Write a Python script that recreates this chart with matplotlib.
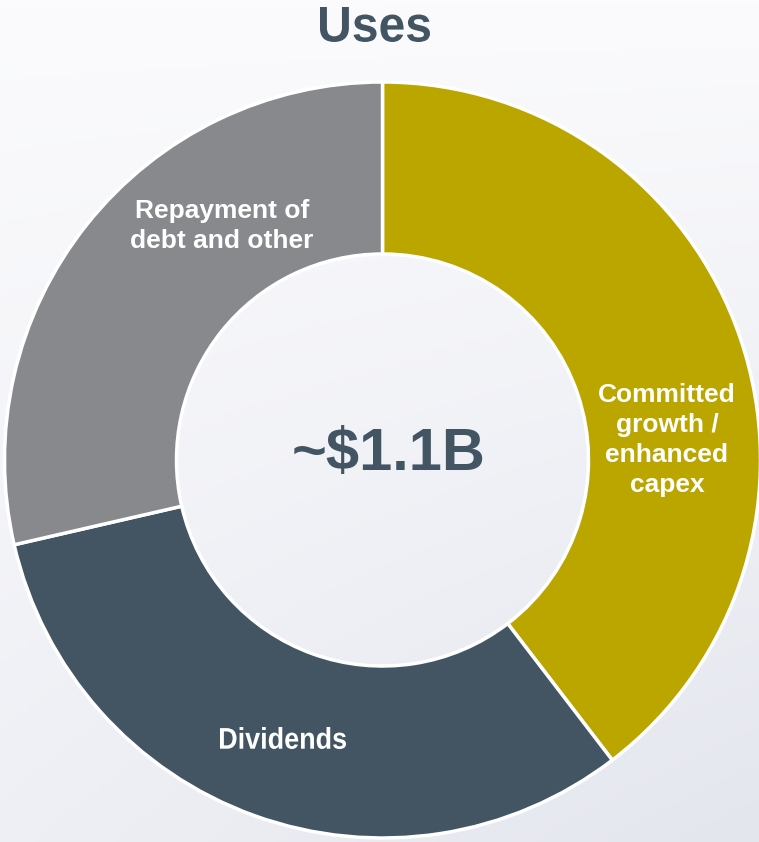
import numpy as np
import matplotlib.pyplot as plt
from matplotlib.colors import LinearSegmentedColormap
from matplotlib.textpath import TextPath
from matplotlib.patches import PathPatch
from matplotlib.font_manager import FontProperties
from matplotlib.transforms import Affine2D

# Uses of cash, share of total (approx.)
etiquetas = ['Committed\ngrowth /\nenhanced\ncapex', 'Dividends', 'Repayment of\ndebt and other']
valores = [39.6, 31.8, 28.6]
colores = ['#bba600', '#435563', '#87898c']
titulo = 'Uses'
total = '~$1.1B'

W, H = 759, 842
fig = plt.figure(figsize=(W / 100, H / 100), dpi=100)
ax = fig.add_axes([0, 0, 1, 1])

# fondo con degradado suave
yy, xx = np.mgrid[0:1:200j, 0:1:200j]
grad = 0.55 * (1 - yy) + 0.45 * xx * (1 - yy)
cmap = LinearSegmentedColormap.from_list('fondo', ['#fbfbfd', '#e4e6ee'])
ax.imshow(grad, extent=(0, W, 0, H), origin='lower', cmap=cmap, vmin=0, vmax=1,
          aspect='auto', zorder=0)

cx, cy, r = 382.5, H - 460, 378
wedges, _ = ax.pie(valores, colors=colores, startangle=90, counterclock=False,
                   center=(cx, cy), radius=r,
                   wedgeprops=dict(width=r * 0.455, edgecolor='white', linewidth=2.5))
for w in wedges:
    w.set_zorder(2)

ax.set_xlim(0, W)
ax.set_ylim(0, H)
ax.set_aspect('auto')
ax.axis('off')

fuente = ['Liberation Sans', 'DejaVu Sans']
negrita = FontProperties(family='Liberation Sans', weight='bold')


def texto_estrecho(s, x0, x1, ytop, ybot, color):
    # texto condensado: se escala el trazo para que ocupe la caja dada (en px)
    tp = TextPath((0, 0), s, size=50, prop=negrita)
    bb = tp.get_extents()
    sx = (x1 - x0) / bb.width
    sy = (ybot - ytop) / bb.height
    tr = Affine2D().translate(-bb.x0, -bb.y0).scale(sx, sy).translate(x0, H - ybot)
    ax.add_patch(PathPatch(tr.transform_path(tp), facecolor=color, edgecolor='none',
                           zorder=3))


# etiquetas de los sectores
ax.text(667, H - 440, etiquetas[0], ha='center', va='center', color='white',
        fontsize=19, fontweight='bold', family=fuente, linespacing=1.32, zorder=3)
ax.text(222, H - 226, etiquetas[2], ha='center', va='center', color='white',
        fontsize=19, fontweight='bold', family=fuente, linespacing=1.3, zorder=3)
texto_estrecho(etiquetas[1], 220, 346, 727, 749, 'white')

ax.text(389, H - 455, total, ha='center', va='center', color='#435563',
        fontsize=43, fontweight='bold', family=fuente, zorder=3)
texto_estrecho(titulo, 320, 430, 7, 42, '#435563')

fig.savefig('out.png', dpi=100)
